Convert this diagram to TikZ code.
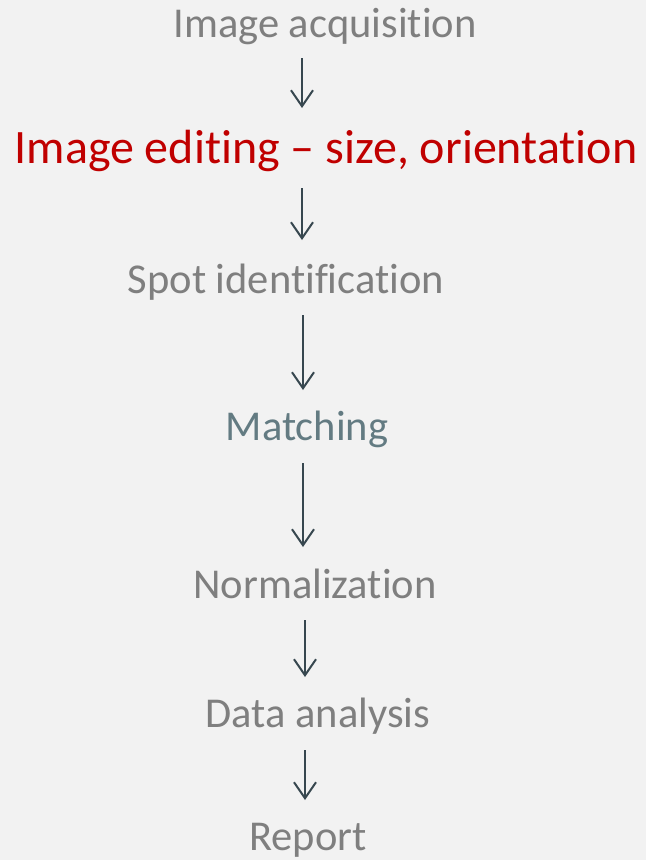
\documentclass[tikz,border=0pt]{standalone}
\usepackage{fontspec}
\setmainfont{Carlito}[Ligatures={NoCommon,NoRare}]
\usetikzlibrary{arrows.meta}
\definecolor{bgcol}{HTML}{F2F2F2}
\definecolor{stepgray}{HTML}{7F7F7F}
\definecolor{stepred}{HTML}{C00000}
\definecolor{stepteal}{HTML}{637B82}
\definecolor{arrowcol}{HTML}{37474F}
\tikzset{
  stage/.style={anchor=base, inner sep=0pt, text=stepgray, font=\fontsize{42.5}{50}\selectfont},
  flow/.style={draw=arrowcol, line width=2pt, -{Straight Barb[length=16pt, width=22pt, line width=2pt]}}
}
\begin{document}
\begin{tikzpicture}[x=1pt, y=-1pt]
  \fill[bgcol] (0,0) rectangle (646,860);
  \useasboundingbox (0,0) rectangle (646,860);

  \node[stage] (acq) at (325,37) {Image acquisition};
  \node[stage, text=stepred, font=\fontsize{48}{56}\selectfont] (edit) at (326,163) {Image editing – size, orientation};
  \node[stage] (spot) at (286,293) {Spot identification};
  \node[stage, text=stepteal] (match) at (307,440) {Matching};
  \node[stage] (norm) at (315,598) {Normalization};
  \node[stage] (data) at (318,727) {Data analysis};
  \node[stage] (rep) at (308,850) {Report};

  \coordinate (a1s) at (302,58);  \coordinate (a1e) at (302,108);
  \coordinate (a2s) at (302,188); \coordinate (a2e) at (302,240);
  \coordinate (a3s) at (303,315); \coordinate (a3e) at (303,390);
  \coordinate (a4s) at (303,463); \coordinate (a4e) at (303,547);
  \coordinate (a5s) at (305,620); \coordinate (a5e) at (305,677);
  \coordinate (a6s) at (305,750); \coordinate (a6e) at (305,800);

  \draw[flow] (a1s) -- (a1e);
  \draw[flow] (a2s) -- (a2e);
  \draw[flow] (a3s) -- (a3e);
  \draw[flow] (a4s) -- (a4e);
  \draw[flow] (a5s) -- (a5e);
  \draw[flow] (a6s) -- (a6e);
\end{tikzpicture}
\end{document}
